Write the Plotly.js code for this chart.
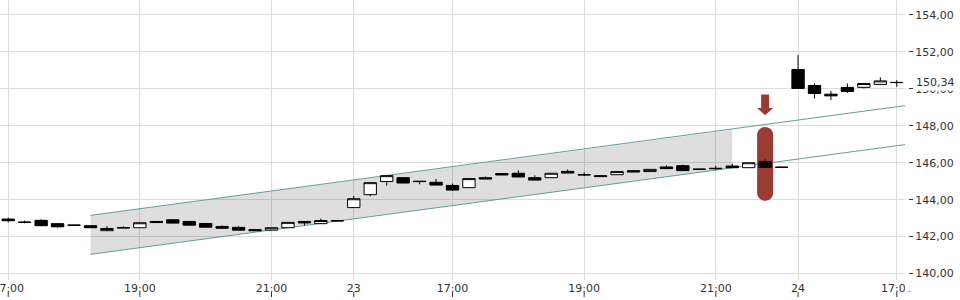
<!DOCTYPE html>
<html>
<head>
<meta charset="utf-8">
<script src="https://cdn.plot.ly/plotly-3.0.1.min.js"></script>
<style>
  html, body { margin: 0; padding: 0; background: #fff; }
  #chart { width: 960px; height: 300px; }
</style>
</head>
<body>
<div id="chart"></div>
<script>
// ---- data (15-minute candles) ----
const times = [
  '22 17:00','22 17:15','22 17:30','22 17:45','22 18:00','22 18:15','22 18:30','22 18:45',
  '22 19:00','22 19:15','22 19:30','22 19:45','22 20:00','22 20:15','22 20:30','22 20:45',
  '22 21:00','22 21:15','22 21:30','22 21:45','22 22:00',
  '23 15:30','23 15:45','23 16:00','23 16:15','23 16:30','23 16:45',
  '23 17:00','23 17:15','23 17:30','23 17:45','23 18:00','23 18:15','23 18:30','23 18:45',
  '23 19:00','23 19:15','23 19:30','23 19:45','23 20:00','23 20:15','23 20:30','23 20:45',
  '23 21:00','23 21:15','23 21:30','23 21:45','23 22:00',
  '24 15:30','24 15:45','24 16:00','24 16:15','24 16:30','24 16:45','24 17:00'
];
const open = [
  142.95,142.79,142.88,142.70,142.63,142.59,142.32,142.49,142.48,142.82,142.91,142.82,142.71,142.55,142.50,142.38,
  142.35,142.48,142.82,142.70,142.87,
  143.57,144.27,144.98,145.19,145.00,144.94,144.77,144.65,145.19,145.41,145.43,145.19,145.19,145.53,145.36,145.30,
  145.35,145.57,145.52,145.77,145.84,145.66,145.70,145.82,145.73,146.07,145.76,
  151.05,150.18,149.71,150.08,150.08,150.24,150.35
];
const high = [
  143.02,142.87,142.93,142.70,142.63,142.60,142.57,142.56,142.76,142.83,142.93,142.84,142.72,142.60,142.57,142.39,
  142.49,142.78,142.83,142.97,142.88,
  144.20,144.93,145.31,145.20,145.01,145.12,144.87,145.15,145.26,145.42,145.59,145.32,145.44,145.63,145.48,145.30,
  145.53,145.58,145.65,145.86,145.90,145.67,145.83,145.94,146.01,146.18,145.76,
  151.83,150.29,149.89,150.29,150.30,150.62,150.47
];
const low = [
  142.77,142.72,142.58,142.48,142.60,142.47,142.31,142.45,142.48,142.75,142.72,142.61,142.50,142.43,142.34,142.31,
  142.34,142.47,142.60,142.69,142.84,
  143.56,144.18,144.76,144.89,144.83,144.78,144.47,144.64,145.11,145.33,145.22,145.05,145.18,145.43,145.28,145.24,
  145.34,145.49,145.51,145.67,145.56,145.63,145.60,145.72,145.72,145.73,145.74,
  150.01,149.48,149.39,149.78,150.02,150.23,150.11
];
const close = [
  142.86,142.77,142.59,142.53,142.61,142.48,142.44,142.47,142.75,142.76,142.73,142.62,142.51,142.45,142.35,142.32,
  142.48,142.77,142.74,142.87,142.85,
  144.05,144.92,145.30,144.90,144.98,144.79,144.52,145.14,145.12,145.34,145.23,145.06,145.43,145.44,145.34,145.25,
  145.52,145.50,145.64,145.68,145.57,145.64,145.68,145.73,146.00,145.74,145.75,
  150.02,149.75,149.62,149.86,150.29,150.43,150.34
];
const tickTimes  = ['22 17:00','22 19:00','22 21:00','23 15:30','23 17:00','23 19:00','23 21:00','24 15:30','24 17:00'];
const tickLabels = ['17:00','19:00','21:00','23','17:00','19:00','21:00','24','17:00'];
const yTicks = [140,142,144,146,148,150,152,154];

// trend channel
const channelX      = ['22 18:15', 54.5];
const channelUpper  = [143.15, 149.09];
const channelLower  = [141.04, 146.98];
const shadeX        = ['22 18:15', '23 21:15'];
const shadeUpper    = [143.15, 147.78];
const shadeLower    = [141.04, 145.72];

// highlighted candle and marker
const highlightTime = '23 21:45';
const highlightTop = 147.94, highlightBottom = 143.94;
const arrowTop = 149.70, arrowNeck = 148.96, arrowTip = 148.57;
const lastPrice = 150.34;

// ---- helpers ----
const idx = t => (typeof t === 'number') ? t : times.indexOf(t);
const xs = times.map((t, i) => i);
const fmt = v => v.toFixed(2).replace('.', ',');

const W = 960, H = 300;
const plotRight = 905, plotBottom = 280;
const yRange = [139.65, 154.81];
const pxPerUnitY = plotBottom / (yRange[1] - yRange[0]);
const pxPerIdx = plotRight / 55;

const teal = '#5f9ea0';
const red = '#9a3b35';
const textColor = '#333';

const hx = idx(highlightTime);
const hw = 8 / pxPerIdx;      // half width in index units
const ry = 8 / pxPerUnitY;    // radius in price units
const k = 0.5523;
const pillPath =
  `M ${hx-hw},${highlightTop-ry} ` +
  `C ${hx-hw},${highlightTop-ry+k*ry} ${hx-k*hw},${highlightTop} ${hx},${highlightTop} ` +
  `C ${hx+k*hw},${highlightTop} ${hx+hw},${highlightTop-ry+k*ry} ${hx+hw},${highlightTop-ry} ` +
  `L ${hx+hw},${highlightBottom+ry} ` +
  `C ${hx+hw},${highlightBottom+ry-k*ry} ${hx+k*hw},${highlightBottom} ${hx},${highlightBottom} ` +
  `C ${hx-k*hw},${highlightBottom} ${hx-hw},${highlightBottom+ry-k*ry} ${hx-hw},${highlightBottom+ry} Z`;
const sw = 4 / pxPerIdx;
const arrowPath =
  `M ${hx-sw},${arrowTop} L ${hx+sw},${arrowTop} L ${hx+sw},${arrowNeck} L ${hx+hw},${arrowNeck} ` +
  `L ${hx},${arrowTip} L ${hx-hw},${arrowNeck} L ${hx-sw},${arrowNeck} Z`;

const shapes = [];
shapes.push({
  type: 'path', layer: 'between', xref: 'x', yref: 'y',
  path: `M ${idx(shadeX[0])},${shadeLower[0]} L ${idx(shadeX[0])},${shadeUpper[0]} L ${idx(shadeX[1])},${shadeUpper[1]} L ${idx(shadeX[1])},${shadeLower[1]} Z`,
  fillcolor: 'rgba(0,0,0,0.13)', line: { width: 0 }
});
[channelUpper, channelLower].forEach(arr => shapes.push({
  type: 'line', layer: 'between', xref: 'x', yref: 'y',
  x0: idx(channelX[0]), x1: idx(channelX[1]), y0: arr[0], y1: arr[1],
  line: { color: teal, width: 1 }
}));
shapes.push({ type: 'path', layer: 'between', xref: 'x', yref: 'y', path: pillPath, fillcolor: red, line: { width: 0 } });
shapes.push({ type: 'path', layer: 'between', xref: 'x', yref: 'y', path: arrowPath, fillcolor: red, line: { width: 0 } });
// x tick marks below the labels
tickTimes.forEach(t => shapes.push({
  type: 'line', layer: 'above', xref: 'x', yref: 'paper',
  x0: idx(t), x1: idx(t), y0: -12 / plotBottom, y1: -17 / plotBottom,
  line: { color: textColor, width: 1 }
}));
// clip the last x label at the plot edge
shapes.push({
  type: 'rect', layer: 'above', xref: 'paper', yref: 'paper',
  x0: plotRight / W, x1: 1, y0: -1.5 / plotBottom, y1: -11.5 / plotBottom,
  fillcolor: '#fff', line: { width: 0 }
});

const trace = {
  type: 'candlestick',
  x: xs, open: open, high: high, low: low, close: close,
  increasing: { line: { color: '#000', width: 1 }, fillcolor: '#fff' },
  decreasing: { line: { color: '#000', width: 1 }, fillcolor: '#000' },
  whiskerwidth: 0,
  hoverinfo: 'skip'
};

const layout = {
  width: W, height: H,
  margin: { l: 0, r: 0, t: 0, b: H - plotBottom, pad: 0 },
  paper_bgcolor: '#fff', plot_bgcolor: '#fff',
  showlegend: false, hovermode: false,
  separators: ',.',
  font: { family: 'DejaVu Sans', size: 11, color: textColor },
  boxgap: 0.25, boxgroupgap: 0,
  xaxis: {
    type: 'linear', domain: [0, plotRight / W], range: [-0.5, 54.5],
    tickvals: tickTimes.map(idx), ticktext: tickLabels,
    ticks: '', showline: false, zeroline: false,
    showgrid: true, gridcolor: '#dcdcdc', gridwidth: 1,
    tickfont: { family: 'DejaVu Sans', size: 11, color: textColor },
    ticklabeloverflow: 'allow',
    rangeslider: { visible: false }, fixedrange: true
  },
  yaxis: {
    side: 'right', anchor: 'free', position: 908 / W,
    range: yRange, tickvals: yTicks, ticktext: yTicks.map(fmt),
    ticks: 'outside', ticklen: 4, tickcolor: textColor, tickwidth: 1,
    ticklabelstandoff: 0,
    showline: false, zeroline: false,
    showgrid: true, gridcolor: '#dcdcdc', gridwidth: 1,
    tickfont: { family: 'DejaVu Sans', size: 11, color: textColor },
    fixedrange: true
  },
  shapes: shapes,
  annotations: [{
    xref: 'paper', yref: 'y', x: 914 / W, y: lastPrice,
    xanchor: 'left', yanchor: 'middle', showarrow: false,
    text: fmt(lastPrice), bgcolor: '#fff', borderpad: 1,
    font: { family: 'DejaVu Sans', size: 11, color: textColor }
  }]
};

Plotly.newPlot('chart', [trace], layout, { staticPlot: true, displayModeBar: false });
</script>
</body>
</html>
